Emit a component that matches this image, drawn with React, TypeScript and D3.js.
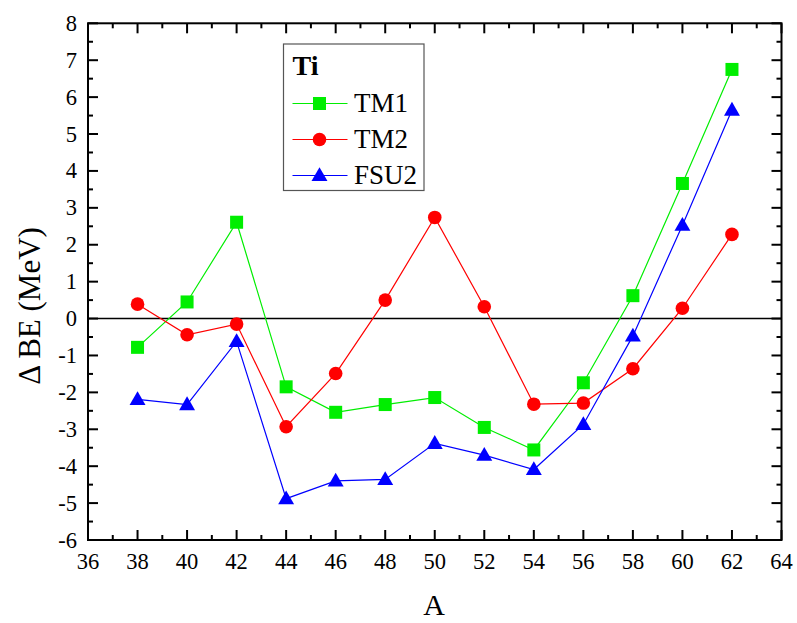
import React from "react";
import * as d3 from "d3";

// Mass number A for the Ti isotopes
const massNumbers = [38, 40, 42, 44, 46, 48, 50, 52, 54, 56, 58, 60, 62];
// ΔBE (MeV) per parameter set
const tm1Values = [-0.78, 0.45, 2.61, -1.85, -2.54, -2.33, -2.14, -2.95, -3.56, -1.74, 0.62, 3.66, 6.75];
const tm2Values = [0.39, -0.44, -0.15, -2.93, -1.49, 0.5, 2.74, 0.32, -2.32, -2.29, -1.36, 0.28, 2.28];
const fsu2Values = [-2.19, -2.33, -0.62, -4.88, -4.4, -4.36, -3.38, -3.7, -4.09, -2.87, -0.47, 2.53, 5.65];

const xTicks = [36, 38, 40, 42, 44, 46, 48, 50, 52, 54, 56, 58, 60, 62, 64];
const yTicks = [-6, -5, -4, -3, -2, -1, 0, 1, 2, 3, 4, 5, 6, 7, 8];

const seriesNames = ["TM1", "TM2", "FSU2"];
const seriesColors = ["#00ee00", "#ff0000", "#0000ff"];
const seriesShapes = ["square", "circle", "triangle"];

const W = 797;
const H = 623;
const left = 88;
const right = 781.5;
const top = 23.3;
const bottom = 540;
const FONT = "Liberation Serif, Times New Roman, Times, serif";

function Marker({ shape, x, y, color }: { shape: string; x: number; y: number; color: string }) {
  if (shape === "square") {
    return <rect x={x - 6.5} y={y - 6.5} width={13} height={13} fill={color} />;
  }
  if (shape === "circle") {
    return <circle cx={x} cy={y} r={6.8} fill={color} />;
  }
  const sym = d3.symbol(d3.symbolTriangle, 110)();
  return <path d={sym as string} transform={`translate(${x},${y + 1})`} fill={color} />;
}

export default function App() {
  const x = d3.scaleLinear().domain([36, 64]).range([left, right]);
  const y = d3.scaleLinear().domain([-6, 8]).range([bottom, top]);
  const allSeries = [tm1Values, tm2Values, fsu2Values];
  const line = d3
    .line<[number, number]>()
    .x((d) => x(d[0]))
    .y((d) => y(d[1]));

  const xMinor = d3.range(36, 64.01, 1).filter((v) => !xTicks.includes(v));
  const yMinor = d3.range(-6, 8.01, 0.5).filter((v) => !yTicks.includes(v));

  const legendX = 283.5;
  const legendY = 44;
  const rowY = [103.5, 139.5, 175.5];

  return (
    <svg width={W} height={H} style={{ position: "absolute", left: 0, top: 0, background: "#fff", fontFamily: FONT }}>
      {/* zero reference line */}
      <line x1={left} x2={right} y1={y(0)} y2={y(0)} stroke="#000" strokeWidth={1.5} />

      {/* series lines and markers */}
      {allSeries.map((vals, si) => (
        <g key={seriesNames[si]}>
          <path
            d={line(massNumbers.map((a, i) => [a, vals[i]]) as [number, number][]) as string}
            fill="none"
            stroke={seriesColors[si]}
            strokeWidth={1.2}
          />
          {massNumbers.map((a, i) => (
            <Marker key={a} shape={seriesShapes[si]} x={x(a)} y={y(vals[i])} color={seriesColors[si]} />
          ))}
        </g>
      ))}

      {/* frame */}
      <rect x={left} y={top} width={right - left} height={bottom - top} fill="none" stroke="#000" strokeWidth={2} />

      {/* x ticks, bottom and top, inward */}
      {xTicks.map((v) => (
        <g key={"xt" + v}>
          <line x1={x(v)} x2={x(v)} y1={bottom} y2={bottom - 10} stroke="#000" strokeWidth={2} />
          <line x1={x(v)} x2={x(v)} y1={top} y2={top + 10} stroke="#000" strokeWidth={2} />
          <text x={x(v)} y={bottom + 29} textAnchor="middle" fontSize={22.5} fill="#000">
            {v}
          </text>
        </g>
      ))}
      {xMinor.map((v) => (
        <g key={"xm" + v}>
          <line x1={x(v)} x2={x(v)} y1={bottom} y2={bottom - 5} stroke="#000" strokeWidth={2} />
          <line x1={x(v)} x2={x(v)} y1={top} y2={top + 5} stroke="#000" strokeWidth={2} />
        </g>
      ))}

      {/* y ticks, left and right, inward */}
      {yTicks.map((v) => (
        <g key={"yt" + v}>
          <line x1={left} x2={left + 10} y1={y(v)} y2={y(v)} stroke="#000" strokeWidth={2} />
          <line x1={right} x2={right - 10} y1={y(v)} y2={y(v)} stroke="#000" strokeWidth={2} />
          <text x={left - 11} y={y(v) + 7.5} textAnchor="end" fontSize={22.5} fill="#000">
            {v}
          </text>
        </g>
      ))}
      {yMinor.map((v) => (
        <g key={"ym" + v}>
          <line x1={left} x2={left + 5} y1={y(v)} y2={y(v)} stroke="#000" strokeWidth={2} />
          <line x1={right} x2={right - 5} y1={y(v)} y2={y(v)} stroke="#000" strokeWidth={2} />
        </g>
      ))}

      {/* axis titles */}
      <text x={434} y={615} textAnchor="middle" fontSize={30} fill="#000">
        A
      </text>
      <text transform="translate(40, 306) rotate(-90)" textAnchor="middle" fontSize={31} fill="#000">
        Δ BE (MeV)
      </text>

      {/* legend */}
      <rect x={legendX} y={legendY} width={140.5} height={146.5} fill="#fff" stroke="#555" strokeWidth={1.2} />
      <text x={legendX + 9} y={75} fontSize={28} fontWeight="bold" fill="#000">
        Ti
      </text>
      {seriesNames.map((name, si) => (
        <g key={"lg" + name}>
          <line x1={legendX + 9} x2={legendX + 64} y1={rowY[si]} y2={rowY[si]} stroke={seriesColors[si]} strokeWidth={1.2} />
          <Marker shape={seriesShapes[si]} x={legendX + 36} y={rowY[si]} color={seriesColors[si]} />
          <text x={legendX + 70.5} y={rowY[si] + 8.5} fontSize={27} fill="#000">
            {name}
          </text>
        </g>
      ))}
    </svg>
  );
}
